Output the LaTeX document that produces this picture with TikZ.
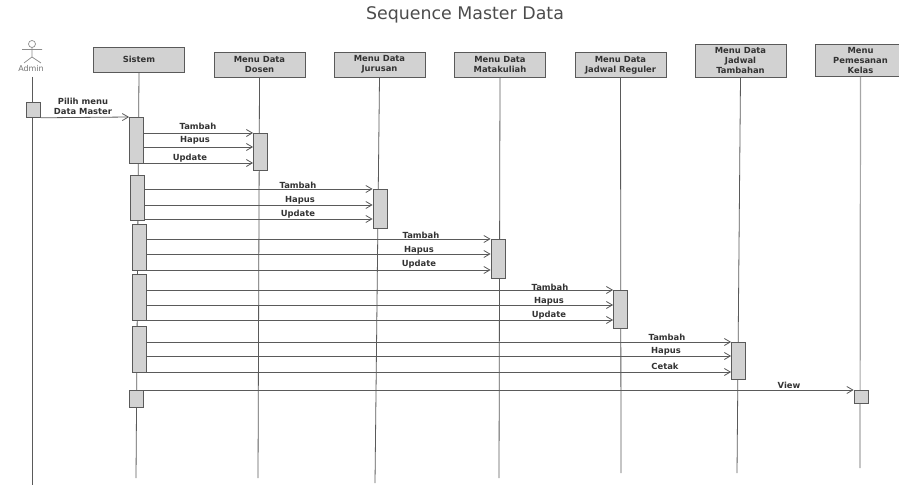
\documentclass[tikz,border=0pt]{standalone}
\usepackage{fontspec}
\setmainfont{DejaVu Sans}
\usepackage{xcolor}
\usetikzlibrary{arrows.meta}
\definecolor{abu}{HTML}{D2D2D2}
\definecolor{garis}{HTML}{5A5A5A}

\begin{document}
\begin{tikzpicture}[x=1pt,y=-1pt]
      \useasboundingbox (0,0) rectangle (899,486);
      \tikzstyle{every node}=[inner sep=0pt,align=center,text=black!80]
      \tikzstyle{objek}=[draw=garis,fill=abu,line width=0.9pt,minimum width=91pt,font=\bfseries\fontsize{8.4}{10}\selectfont]
      \tikzstyle{aktif}=[draw=garis,fill=abu,line width=0.8pt,anchor=north,minimum width=14pt]
      \tikzstyle{hidup}=[draw=garis,line width=0.8pt]
      \tikzstyle{pesan}=[draw=garis,line width=0.8pt,-{Straight Barb[length=6pt,width=7pt]}]
      \tikzstyle{teks}=[font=\bfseries\fontsize{8.4}{9.5}\selectfont]

      \node[font=\fontsize{17.4}{20}\selectfont,text=black!70] (judul) at (465,15) {Sequence Master Data};

      % actor
      \draw[black!45,line width=0.7pt] (32,44) circle (3.5pt);
      \draw[black!45,line width=0.7pt] (32,47.5) -- (32,57) (22,49.5) -- (42,49.5) (24,63) -- (32,57) -- (41,63);
      \node[font=\fontsize{8}{9}\selectfont,text=black!55] (admin) at (31,69) {Admin};

      % objects
      \node[objek,minimum height=25pt] (sistem) at (139,59.5) {Sistem};
      \node[objek,minimum height=25pt] (dosen) at (259.5,65) {Menu Data\\Dosen};
      \node[objek,minimum height=25pt] (jurusan) at (379.5,64.5) {Menu Data\\Jurusan};
      \node[objek,minimum height=25pt] (matkul) at (500,65) {Menu Data\\Matakuliah};
      \node[objek,minimum height=25pt] (reguler) at (620.5,65) {Menu Data\\Jadwal Reguler};
      \node[objek,minimum height=33pt] (tambahan) at (740.5,61) {Menu Data\\Jadwal\\Tambahan};
      \node[objek,minimum height=32pt] (kelas) at (860.5,60.5) {Menu\\Pemesanan\\Kelas};

      % ends of the lifelines
      \coordinate (e0) at (32,485);
      \coordinate (e1) at (136,478);
      \coordinate (e2) at (258,478);
      \coordinate (e3) at (375,483);
      \coordinate (e4) at (499,478);
      \coordinate (e5) at (621,473);
      \coordinate (e6) at (737,473);
      \coordinate (e7) at (860,468);

      \draw[hidup] (32,77) -- (e0);
      \draw[hidup] (sistem.south) -- (e1);
      \draw[hidup] (dosen.south) -- (e2);
      \draw[hidup] (jurusan.south) -- (e3);
      \draw[hidup] (matkul.south) -- (e4);
      \draw[hidup] (reguler.south) -- (e5);
      \draw[hidup] (tambahan.south) -- (e6);
      \draw[hidup,black!35,line width=1.2pt] (kelas.south) -- (e7);

      % activations
      \node[aktif,minimum height=15pt] (a0) at (33.5,102) {};
      \node[aktif,minimum height=46pt] (s1) at (136.5,117) {};
      \node[aktif,minimum height=45pt] (s2) at (137.5,175) {};
      \node[aktif,minimum height=46pt] (s3) at (139,224) {};
      \node[aktif,minimum height=46pt] (s4) at (139.5,274) {};
      \node[aktif,minimum height=46pt] (s5) at (139.5,326) {};
      \node[aktif,minimum height=17pt] (s6) at (136.5,390) {};
      \node[aktif,minimum height=37pt] (t1) at (260.5,133) {};
      \node[aktif,minimum height=39pt] (t2) at (380,189) {};
      \node[aktif,minimum height=39pt] (t3) at (498,239) {};
      \node[aktif,minimum height=38pt] (t4) at (620.5,290) {};
      \node[aktif,minimum height=37pt] (t5) at (738.5,342) {};
      \node[aktif,minimum height=13pt] (t6) at (861,390) {};

      % message heights
      \coordinate (m1) at (0,147);
      \coordinate (m2) at (0,163);
      \coordinate (m3) at (0,205);
      \coordinate (m4) at (0,219);
      \coordinate (m5) at (0,254);
      \coordinate (m6) at (0,270);
      \coordinate (m7) at (0,305);
      \coordinate (m8) at (0,320);
      \coordinate (m9) at (0,356);
      \coordinate (m10) at (0,372);

      \draw[pesan] (a0.south east) -- (s1.north west);

      \draw[pesan] (s1.east |- t1.north) -- (t1.north west);
      \draw[pesan] (s1.east |- m1) -- (t1.west |- m1);
      \draw[pesan] (s1.east |- m2) -- (t1.west |- m2);

      \draw[pesan] (s2.east |- t2.north) -- (t2.north west);
      \draw[pesan] (s2.east |- m3) -- (t2.west |- m3);
      \draw[pesan] (s2.east |- m4) -- (t2.west |- m4);

      \draw[pesan] (s3.east |- t3.north) -- (t3.north west);
      \draw[pesan] (s3.east |- m5) -- (t3.west |- m5);
      \draw[pesan] (s3.east |- m6) -- (t3.west |- m6);

      \draw[pesan] (s4.east |- t4.north) -- (t4.north west);
      \draw[pesan] (s4.east |- m7) -- (t4.west |- m7);
      \draw[pesan] (s4.east |- m8) -- (t4.west |- m8);

      \draw[pesan] (s5.east |- t5.north) -- (t5.north west);
      \draw[pesan] (s5.east |- m9) -- (t5.west |- m9);
      \draw[pesan] (s5.east |- m10) -- (t5.west |- m10);

      \draw[pesan] (s6.north east) -- (t6.north west);

      % labels
      \node[teks] (l0) at (83,106.5) {Pilih menu\\Data Master};
      \node[teks] (l1a) at (198,126) {Tambah};
      \node[teks] (l1b) at (195,140) {Hapus};
      \node[teks] (l1c) at (190,158) {Update};
      \node[teks] (l2a) at (298,185) {Tambah};
      \node[teks] (l2b) at (300,200) {Hapus};
      \node[teks] (l2c) at (298,214) {Update};
      \node[teks] (l3a) at (421,235) {Tambah};
      \node[teks] (l3b) at (419,250) {Hapus};
      \node[teks] (l3c) at (419,264) {Update};
      \node[teks] (l4a) at (550,287) {Tambah};
      \node[teks] (l4b) at (549,301) {Hapus};
      \node[teks] (l4c) at (549,315) {Update};
      \node[teks] (l5a) at (667,337) {Tambah};
      \node[teks] (l5b) at (666,351) {Hapus};
      \node[teks] (l5c) at (665,366) {Cetak};
      \node[teks] (l6) at (789,385) {View};
    \end{tikzpicture}
\end{document}
